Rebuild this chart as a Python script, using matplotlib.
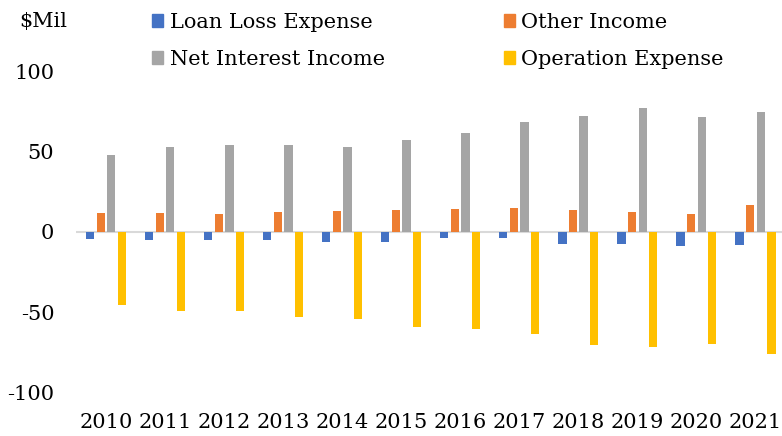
import numpy as np
import matplotlib
matplotlib.use("Agg")
import matplotlib.pyplot as plt
from matplotlib.patches import Patch

plt.rcParams['font.family'] = ['DejaVu Serif']
plt.rcParams['axes.unicode_minus'] = False

# Datos anuales en millones de dólares
years = ['2010', '2011', '2012', '2013', '2014', '2015',
         '2016', '2017', '2018', '2019', '2020', '2021']
loan_loss = [-4.2, -5.2, -5.3, -5.2, -6.0, -6.5, -4.0, -3.8, -7.7, -7.7, -8.8, -8.4]
other_income = [11.9, 12.0, 11.2, 12.2, 13.3, 13.7, 14.6, 15.2, 13.9, 12.7, 11.4, 17.1]
net_interest = [48.3, 53.1, 54.1, 54.6, 52.9, 57.3, 62.0, 68.5, 72.5, 77.3, 71.6, 75.0]
operation_exp = [-45.4, -49.2, -49.6, -52.9, -54.2, -59.2, -60.6, -64.0, -70.6, -72.1, -69.8, -76.3]

series = [loan_loss, other_income, net_interest, operation_exp]
labels = ['Loan Loss Expense', 'Other Income', 'Net Interest Income', 'Operation Expense']
colors = ['#4472C4', '#ED7D31', '#A5A5A5', '#FFC000']

fig = plt.figure(figsize=(7.82, 4.36), dpi=100)
ax = fig.add_axes([0.0978, 0.1009, 0.9022, 0.734])

x = np.arange(len(years))
ancho = 0.14
paso = 0.18
for i, (vals, col) in enumerate(zip(series, colors)):
    ax.bar(x + (i - 1.5) * paso, vals, width=ancho, color=col, zorder=3)

# Línea del cero
ax.axhline(0, color='#D9D9D9', lw=1.5, zorder=2)

ax.set_xlim(-0.5, 11.45)
ax.set_ylim(-100, 100)
ax.set_yticks([-100, -50, 0, 50, 100])
ax.set_xticks(x)
ax.set_xticklabels(years)
ax.tick_params(axis='both', length=0, labelsize=15)
ax.tick_params(axis='y', pad=16)
ax.tick_params(axis='x', pad=15)
for s in ax.spines.values():
    s.set_visible(False)

fig.text(0.024, 1 - 22 / 436, '$Mil', fontsize=15, ha='left', va='center')

handles = [Patch(color=c) for c in colors]
orden = [0, 2, 1, 3]
fig.legend([handles[k] for k in orden], [labels[k] for k in orden],
           ncol=2, frameon=False, fontsize=15,
           loc='upper left', bbox_to_anchor=(152 / 782, 1 - 13 / 436),
           borderpad=0, borderaxespad=0, handlelength=0.55, handleheight=0.55,
           handletextpad=0.3, labelspacing=0.85, columnspacing=5.7)

fig.savefig('out.png', dpi=100)
